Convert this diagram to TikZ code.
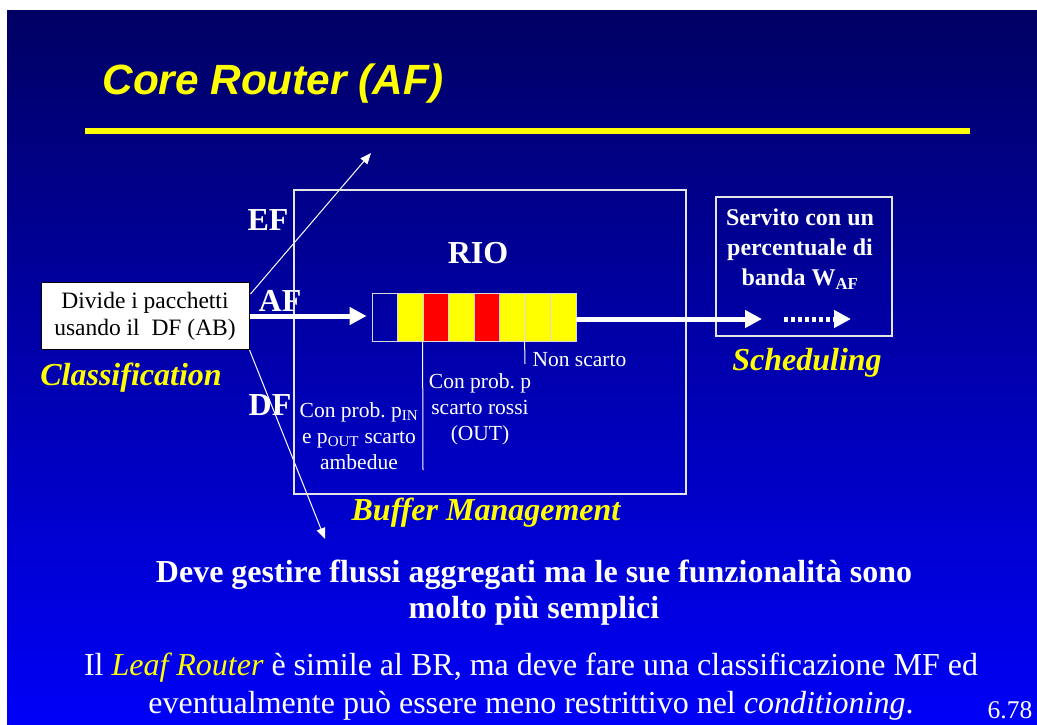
\documentclass[tikz,border=0pt]{standalone}
\usepackage{fontspec}
\setmainfont{Liberation Serif}
\newfontfamily\titlefont{Liberation Sans}
\usetikzlibrary{arrows.meta}
\usetikzlibrary{calc}
\usetikzlibrary{positioning}

\definecolor{slidetop}{RGB}{0,0,100}
\definecolor{slidebottom}{RGB}{0,0,248}
\definecolor{rioyellow}{RGB}{255,255,0}
\definecolor{riored}{RGB}{255,0,0}

\begin{document}
\frenchspacing
\begin{tikzpicture}[x=1pt,y=-1pt,
    whitelbl/.style={text=white,font=\bfseries\fontsize{32}{36}\selectfont},
    yellowlbl/.style={text=rioyellow,font=\bfseries\itshape\fontsize{32}{36}\selectfont},
    note/.style={text=white,align=center,font=\fontsize{21.5}{26}\selectfont},
    cell/.style={draw=white!85!black,line width=0.8pt,minimum width=25.5pt,minimum height=48pt,inner sep=0pt},
    flow/.style={color=white,line width=5pt,-{Triangle[length=17pt,width=17pt]}},
    thinarrow/.style={color=white,line width=1pt,-{Triangle[length=11pt,width=9pt]}},
    thinline/.style={color=white,line width=1pt}]

  \useasboundingbox (0,0) rectangle (1037,725);
  \fill [white] (0,0) rectangle (1037,725);
  \shade [top color=slidetop,bottom color=slidebottom] (7,11) rectangle (1037,725);

  % title and rule
  \node [anchor=base west,text=rioyellow,font=\titlefont\bfseries\itshape\fontsize{42.3}{48}\selectfont] (title) at (99,95) {Core Router (AF)};
  \fill [rioyellow] (85,128) rectangle (970,134);

  % classifier
  \node [draw=black,fill=white,line width=1pt,minimum width=208pt,minimum height=67pt,align=center,font=\fontsize{23.5}{27}\selectfont] (classify) at (145,316) {Divide i pacchetti\\usando il\ \ DF (AB)};
  \node [yellowlbl] (classlbl) at (131,378) {Classification};

  \node [whitelbl] (ef) at (268,220) {EF};
  \node [whitelbl] (af) at (280,301) {AF};
  \node [whitelbl] (df) at (270,405) {DF};

  \coordinate (efend) at (371,153);
  \coordinate (dfend) at (325,539);
  \draw [thinarrow] ($(classify.north east)+(1,12)$) -- (efend);
  \draw [thinarrow] (classify.south east) -- (dfend);

  % RIO buffer
  \node [draw=white!90!black,line width=1.2pt,minimum width=392pt,minimum height=304pt] (rio) at (490,342) {};
  \node [whitelbl] (riolbl) at (478,253) {RIO};
  \node [yellowlbl] (buflbl) at (486,513) {Buffer Management};

  \foreach \c [count=\i from 0] in {none,rioyellow,riored,rioyellow,riored,rioyellow,rioyellow,rioyellow}
    \node [cell,fill=\c] (q\i) at (384.75+25.5*\i,317) {};

  \draw [flow,shorten >=5pt] (classify.east) -- (classify.east -| q0.west);

  \coordinate (pinend) at (423,470);
  \coordinate (nonend) at (525,364);
  \draw [thinline] (q2.south west) -- (pinend);
  \draw [thinline] (q6.south west) -- (nonend);

  \node [note,anchor=west] (nonscarto) at (529,360) {Non scarto};
  \node [note] (outnote) at (480,409) {Con prob. p\\scarto rossi\\(OUT)};
  \node [note] (innote) at (359,436) {Con prob. p\textsubscript{IN}\\e p\textsubscript{OUT} scarto\\ambedue};

  % scheduler
  \node [draw=white!90!black,line width=1.5pt,minimum width=176pt,minimum height=139pt] (sched) at (804,266.5) {};
  \node [text=white,align=center,font=\bfseries\fontsize{24}{30}\selectfont] (schedtxt) at (800,249.5) {Servito con un\\percentuale di\\banda W\textsubscript{AF}};
  \node [yellowlbl] (schedlbl) at (807,363) {Scheduling};

  \coordinate (schedin) at (762,319);
  \coordinate (dotfrom) at (784,319);
  \coordinate (dotto) at (851,319);
  \draw [flow] (q7.east |- schedin) -- (schedin);
  \draw [flow,dash pattern=on 4pt off 3pt] (dotfrom) -- (dotto);

  % bottom text
  \node [text=white,align=center,font=\bfseries\fontsize{32}{36}\selectfont] (summary) at (534,593) {Deve gestire flussi aggregati ma le sue funzionalità sono\\molto più semplici};
  \node [text=white,align=center,font=\fontsize{32}{38}\selectfont] (leaf) at (531,687) {Il \textcolor{rioyellow}{\itshape Leaf Router} è simile al BR, ma deve fare una classificazione MF ed\\eventualmente può essere meno restrittivo nel \textit{conditioning}.};
  \node [text=white,font=\fontsize{25.5}{28}\selectfont] (pagenum) at (1010,710) {6.78};

\end{tikzpicture}
\end{document}
